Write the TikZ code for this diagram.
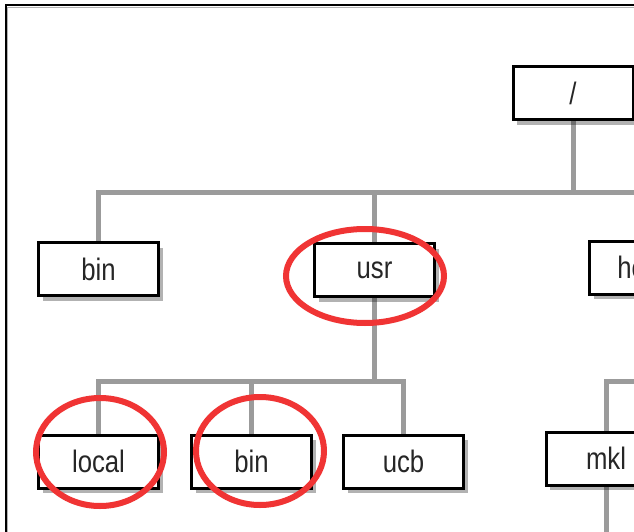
\documentclass[tikz,border=0pt]{standalone}
\usepackage{fontspec}
\setmainfont[FakeStretch=0.83]{Liberation Sans}
\usetikzlibrary{shadows,backgrounds}
\definecolor{wiregray}{RGB}{155,155,155}
\definecolor{ringred}{RGB}{240,52,52}
\tikzset{
  dirbox/.style={ draw=black, line width=3pt, fill=white, minimum width=120pt, minimum height=53pt, inner sep=0pt,
    font=\fontsize{31}{31}\selectfont, text=black!85,
    drop shadow={shadow xshift=4pt, shadow yshift=-5pt, fill=black, opacity=0.3} }
}
\tikzset{
  wire/.style={ draw=wiregray, line width=5pt }
}
\tikzset{
  ring/.style={ draw=ringred, line width=6pt }
}
\begin{document}
\begin{tikzpicture}[x=1pt, y=-1pt]
      \clip (0,0) rectangle (634,532);
      \begin{scope}[on background layer]
        \fill[white] (0,0) rectangle (634,532);
      \end{scope}
      % frame of the figure
      \draw[gray!60, line width=1.4pt] (7.5,532) -- (7.5,7.5) -- (634,7.5);
      \draw[line width=1.6pt] (6,532) -- (6,5) -- (634,5);

      \coordinate (bus1) at (0,192);
      \coordinate (bus2) at (0,381);
      \coordinate (tail) at (0,560);

      \node[dirbox] (root) at (573,93.5) {/};

      \node[dirbox] (bin) at (98.5,269) {bin};
      \node[dirbox] (usr) at (374.5,270) {usr};
      \node[dirbox] (home) at (649.5,267.5) {home};

      \node[dirbox] (local) at (98.5,461.5) {local};
      \node[dirbox] (usrbin) at (251.5,461.5) {bin};
      \node[dirbox] (ucb) at (403.5,461.5) {ucb};
      \node[dirbox] (mkl) at (606,458.5) {mkl};

      \begin{scope}[on background layer]
      \begin{scope}[wire]
        \draw[wire] (root) -- (root |- bus1) -| (bin);
        \draw[wire] (root |- bus1) -| (usr);
        \draw[wire] (root |- bus1) -| (home);

        \draw[wire] (usr) -- (usr |- bus2) -| (local);
        \draw[wire] (usr |- bus2) -| (usrbin);
        \draw[wire] (usr |- bus2) -| (ucb);

        \draw[wire] (home) -- (home |- bus2) -| (mkl);
        \draw[wire] (mkl) -- (mkl |- tail);
      \end{scope}
      \end{scope}

      \draw[ring] (usr) ++(-9.5,6) ellipse [x radius=79, y radius=47];
      \draw[ring] (local) ++(1.5,-9.5) ellipse [x radius=64, y radius=54];
      \draw[ring] (usrbin) ++(8.5,-10.5) ellipse [x radius=64, y radius=54];
    \end{tikzpicture}
\end{document}
